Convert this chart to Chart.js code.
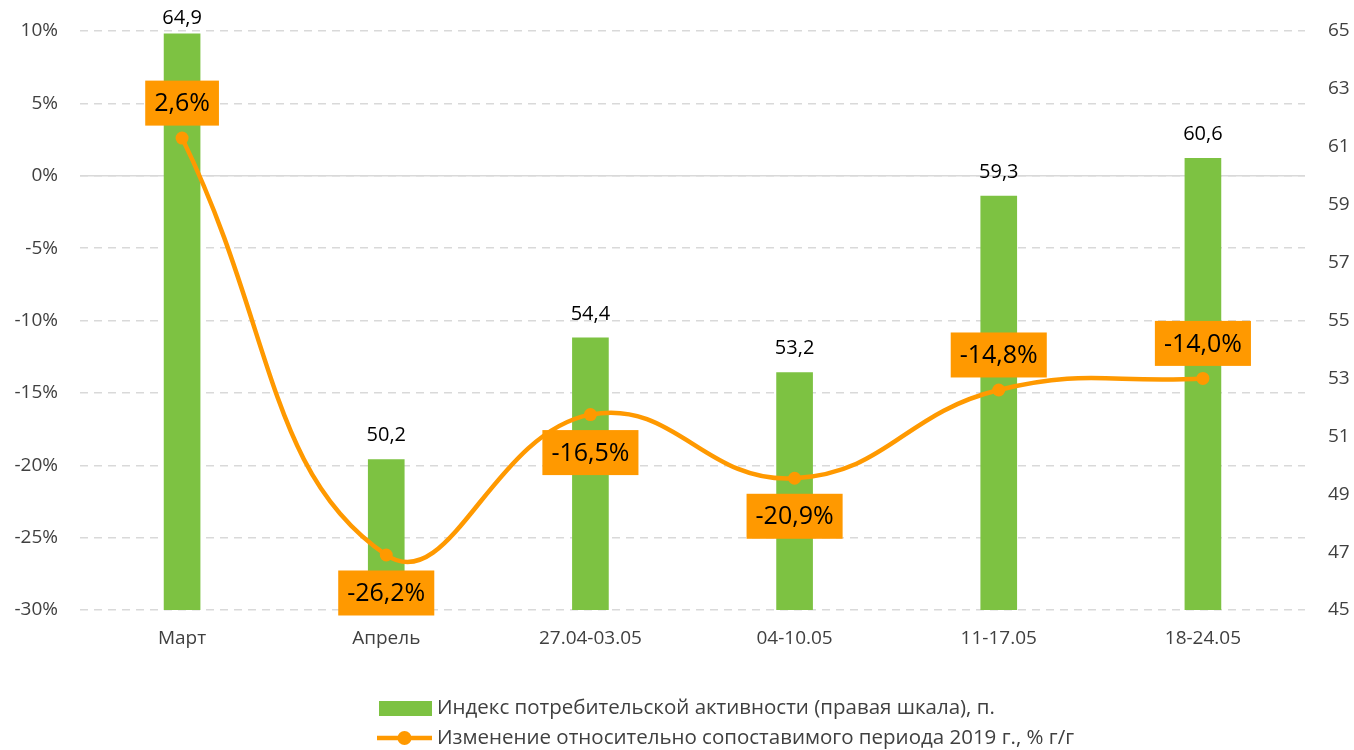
<!DOCTYPE html>
<html lang="ru">
<head>
  <meta charset="UTF-8" />
  <title>Индекс потребительской активности</title>
  <script src="https://cdn.jsdelivr.net/npm/chart.js"></script>
  <style>
    body { margin: 0; background: #fff; }
    #wrap { width: 1354px; height: 750px; }
  </style>
</head>
<body>
  <div id="wrap"><canvas id="chart" width="1354" height="750"></canvas></div>

  <script>
    // данные
    const categories = ['Март', 'Апрель', '27.04-03.05', '04-10.05', '11-17.05', '18-24.05'];
    const indexValues = [64.9, 50.2, 54.4, 53.2, 59.3, 60.6];
    const changeValues = [2.6, -26.2, -16.5, -20.9, -14.8, -14.0];
    const leftTicks = [-30, -25, -20, -15, -10, -5, 0, 5, 10];
    const rightTicks = [45, 47, 49, 51, 53, 55, 57, 59, 61, 63, 65];

    const seriesNames = [
      'Индекс потребительской активности (правая шкала), п.',
      'Изменение относительно сопоставимого периода 2019 г., % г/г'
    ];

    const GREEN = '#7DC242';
    const ORANGE = '#FF9900';
    const FONT = "'Open Sans', sans-serif";

    function fmt(v) {
      return v.toFixed(1).replace('.', ',');
    }

    // подписи над столбцами и в оранжевых плашках
    const labelsPlugin = {
      id: 'labels',
      afterDatasetsDraw(chart) {
        const c = chart.ctx;
        c.save();
        c.textAlign = 'center';
        c.textBaseline = 'middle';

        const bars = chart.getDatasetMeta(0).data;
        c.font = '20px ' + FONT;
        c.fillStyle = '#000';
        bars.forEach((el, i) => {
          c.fillText(fmt(indexValues[i]), el.x, Math.max(el.y - 24, 18));
        });

        const below = chart.data.datasets[1].labelBelow;
        const pts = chart.getDatasetMeta(1).data;
        c.font = '25px ' + FONT;
        pts.forEach((el, i) => {
          const txt = fmt(changeValues[i]) + '%';
          const w = c.measureText(txt).width + 18;
          const h = 45;
          const cy = below[i] ? el.y + 38 : el.y - 35;
          c.fillStyle = ORANGE;
          c.fillRect(el.x - w / 2, cy - h / 2, w, h);
          c.fillStyle = '#000';
          c.fillText(txt, el.x, cy + 1);
        });
        c.restore();
      }
    };

    // сплошная линия нуля
    const zeroLine = {
      id: 'zeroLine',
      beforeDatasetsDraw(chart) {
        const c = chart.ctx;
        const y = chart.scales.y.getPixelForValue(0);
        c.save();
        c.strokeStyle = '#d9d9d9';
        c.lineWidth = 1.5;
        c.beginPath();
        c.moveTo(chart.chartArea.left, y);
        c.lineTo(chart.chartArea.right, y);
        c.stroke();
        c.restore();
      }
    };

    // легенда в две строки
    const legendPlugin = {
      id: 'legend2',
      afterDraw(chart) {
        const c = chart.ctx;
        c.save();
        c.font = '20.5px ' + FONT;
        c.textBaseline = 'middle';
        c.textAlign = 'left';

        c.fillStyle = GREEN;
        c.fillRect(379, 701, 53, 15);
        c.fillStyle = '#404040';
        c.fillText(seriesNames[0], 437, 708);

        c.strokeStyle = ORANGE;
        c.lineWidth = 4.5;
        c.beginPath();
        c.moveTo(377, 738);
        c.lineTo(432, 738);
        c.stroke();
        c.fillStyle = ORANGE;
        c.beginPath();
        c.arc(404.5, 738, 7, 0, Math.PI * 2);
        c.fill();
        c.fillStyle = '#404040';
        c.fillText(seriesNames[1], 437, 738);
        c.restore();
      }
    };

    new Chart(document.getElementById('chart'), {
      type: 'bar',
      data: {
        labels: categories,
        datasets: [{
          type: 'bar',
          label: seriesNames[0],
          data: indexValues,
          yAxisID: 'y2',
          backgroundColor: GREEN,
          barThickness: 36,
          order: 2
        }, {
          type: 'line',
          label: seriesNames[1],
          data: changeValues,
          yAxisID: 'y',
          borderColor: ORANGE,
          backgroundColor: ORANGE,
          borderWidth: 4.5,
          pointRadius: 6.5,
          pointBackgroundColor: ORANGE,
          pointBorderWidth: 0,
          tension: 0.45,
          labelBelow: [false, true, true, true, false, false],
          order: 1
        }]
      },
      options: {
        responsive: false,
        animation: false,
        layout: { padding: { top: 31, left: 0, right: 0, bottom: 0 } },
        plugins: {
          legend: { display: false },
          tooltip: { enabled: false }
        },
        scales: {
          x: {
            grid: { display: false, drawTicks: false },
            border: { display: false },
            ticks: { color: '#404040', font: { family: FONT, size: 19 }, padding: 17 },
            afterFit(s) { s.height = 140; s.paddingLeft = 0; s.paddingRight = 0; }
          },
          y: {
            position: 'left',
            min: -30,
            max: 10,
            afterBuildTicks(s) { s.ticks = leftTicks.map(v => ({ value: v })); },
            ticks: {
              color: '#404040',
              font: { family: FONT, size: 19 },
              padding: 22,
              callback: v => v + '%'
            },
            grid: { color: '#d9d9d9', lineWidth: 1.5, drawTicks: false },
            border: { display: false, dash: [8, 6] },
            afterFit(s) { s.width = 80; s.paddingTop = 0; s.paddingBottom = 0; }
          },
          y2: {
            position: 'right',
            min: 45,
            max: 65,
            afterBuildTicks(s) { s.ticks = rightTicks.map(v => ({ value: v })); },
            ticks: {
              color: '#404040',
              font: { family: FONT, size: 19 },
              padding: 23
            },
            grid: { drawOnChartArea: false, drawTicks: false },
            border: { display: false },
            afterFit(s) { s.width = 49; s.paddingTop = 0; s.paddingBottom = 0; }
          }
        }
      },
      plugins: [zeroLine, labelsPlugin, legendPlugin]
    });
  </script>
</body>
</html>
